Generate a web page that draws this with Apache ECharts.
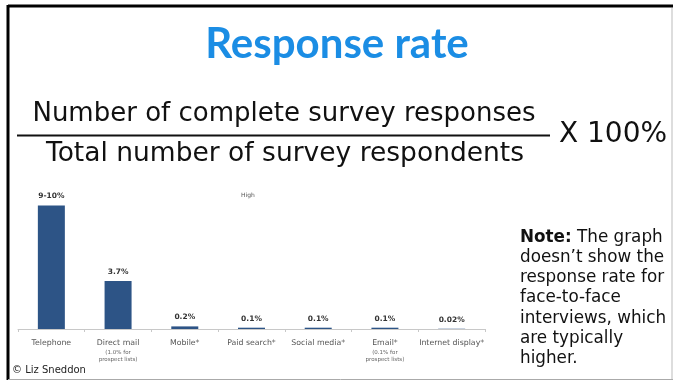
<!DOCTYPE html>
<html>
<head>
<meta charset="utf-8">
<script src="https://cdn.jsdelivr.net/npm/echarts@6/dist/echarts.min.js"></script>
<style>
  html, body { margin: 0; padding: 0; background: #fff; }
  #chart { width: 673px; height: 381px; }
</style>
</head>
<body>
<div id="chart"></div>
<script>
// Response rate by survey channel (percent)
const channels = ['Telephone', 'Direct mail', 'Mobile*', 'Paid search*', 'Social media*', 'Email*', 'Internet display*'];
const channelNotes = ['', '(1.0% for\nprospect lists)', '', '', '', '(0.1% for\nprospect lists)', ''];
const responseRates = [9.5, 3.7, 0.2, 0.1, 0.1, 0.1, 0.02];
const rateLabels = ['9-10%', '3.7%', '0.2%', '0.1%', '0.1%', '0.1%', '0.02%'];
const noteLines = ['doesn\u2019t show the', 'response rate for', 'face-to-face', 'interviews, which', 'are typically', 'higher.'];

const chart = echarts.init(document.getElementById('chart'));
const sans = 'Verdana, "DejaVu Sans", sans-serif';

const noteText = '{b|Note:} The graph\n' + noteLines.join('\n');

chart.setOption({
  backgroundColor: '#ffffff',
  animation: false,
  grid: { left: 18, right: 188, top: 199, bottom: 52 },
  xAxis: {
    type: 'category',
    data: channels,
    axisLine: { lineStyle: { color: '#c8c8c8', width: 1 } },
    axisTick: { show: true, length: 3, lineStyle: { color: '#c8c8c8' } },
    axisLabel: {
      margin: 8,
      interval: 0,
      fontFamily: sans,
      color: '#555',
      fontSize: 7.8,
      lineHeight: 11,
      formatter: function (v, i) {
        return channelNotes[i] ? v + '\n{s|' + channelNotes[i] + '}' : v;
      },
      rich: {
        s: { fontSize: 5.5, lineHeight: 7, color: '#666', fontFamily: sans, padding: [2, 0, 0, 0] }
      }
    }
  },
  yAxis: { type: 'value', min: 0, max: 10, show: false, splitLine: { show: false } },
  series: [{
    type: 'bar',
    data: responseRates,
    barWidth: 27,
    itemStyle: { color: '#2d5486' },
    label: {
      show: true,
      position: 'top',
      distance: 5,
      fontFamily: sans,
      fontWeight: 'bold',
      fontSize: 7.5,
      color: '#333',
      formatter: function (p) { return rateLabels[p.dataIndex]; }
    }
  }],
  graphic: [
    // frame
    { type: 'line', shape: { x1: 8, y1: 6, x2: 673, y2: 6 }, style: { stroke: '#000', lineWidth: 3 } },
    { type: 'line', shape: { x1: 8, y1: 5, x2: 8, y2: 380 }, style: { stroke: '#000', lineWidth: 3 } },
    { type: 'line', shape: { x1: 672, y1: 8, x2: 672, y2: 380 }, style: { stroke: '#bbb', lineWidth: 1 } },
    { type: 'line', shape: { x1: 8, y1: 379.5, x2: 673, y2: 379.5 }, style: { stroke: '#aaa', lineWidth: 1 } },
    // heading
    { type: 'text', x: 337, y: 44, style: { text: 'Response rate', font: 'bold 42px "Comic Sans MS", "Lato", sans-serif', fill: '#1b8de4', textAlign: 'center', textVerticalAlign: 'middle' } },
    // formula
    { type: 'text', x: 284, y: 114, style: { text: 'Number of complete survey responses', font: '26px ' + sans, fill: '#111', textAlign: 'center', textVerticalAlign: 'middle' } },
    { type: 'line', shape: { x1: 17, y1: 135.5, x2: 550, y2: 135.5 }, style: { stroke: '#111', lineWidth: 2 } },
    { type: 'text', x: 285, y: 154, style: { text: 'Total number of survey respondents', font: '26.5px ' + sans, fill: '#111', textAlign: 'center', textVerticalAlign: 'middle' } },
    { type: 'text', x: 613, y: 135, style: { text: 'X 100%', font: '28px ' + sans, fill: '#111', textAlign: 'center', textVerticalAlign: 'middle' } },
    // chart annotation
    { type: 'text', x: 248, y: 195, style: { text: 'High', font: '6px ' + sans, fill: '#555', textAlign: 'center', textVerticalAlign: 'middle' } },
    // note
    { type: 'text', x: 520, y: 227, style: { text: noteText, font: '16.8px ' + sans, fill: '#111', lineHeight: 20.3, rich: { b: { fontWeight: 'bold', fontSize: 16.8, fontFamily: sans, fill: '#111', lineHeight: 20.3 } } } },
    // credit
    { type: 'rect', shape: { x: 10, y: 362, width: 79, height: 16 }, style: { fill: '#fff' } },
    { type: 'text', x: 12, y: 370, style: { text: '\u00a9 Liz Sneddon', font: '10px ' + sans, fill: '#222', textVerticalAlign: 'middle' } }
  ]
});
</script>
</body>
</html>
